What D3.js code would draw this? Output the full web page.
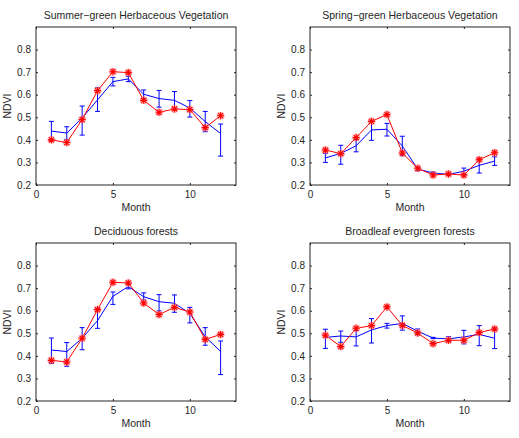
<!DOCTYPE html>
<html>
<head>
<meta charset="utf-8">
<script src="https://cdn.jsdelivr.net/npm/d3@7"></script>
<style>
  body { margin: 0; background: #fff; }
  text { font-family: "Liberation Sans", Arial, sans-serif; fill: #262626; }
</style>
</head>
<body>
<svg id="chart" width="519" height="438"></svg>
<script>
'use strict';

const months = [1, 2, 3, 4, 5, 6, 7, 8, 9, 10, 11, 12];
const xTicks = [0, 5, 10];
const yTicks = [0.2, 0.3, 0.4, 0.5, 0.6, 0.7, 0.8];

const titles = [
  'Summer\u2212green Herbaceous Vegetation',
  'Spring\u2212green Herbaceous Vegetation',
  'Deciduous forests',
  'Broadleaf evergreen forests',
];

// red asterisk series
const summerRed = [0.400, 0.388, 0.490, 0.618, 0.702, 0.698, 0.575, 0.522, 0.537, 0.534, 0.454, 0.507];
const springRed = [0.355, 0.339, 0.410, 0.482, 0.512, 0.342, 0.274, 0.244, 0.249, 0.244, 0.312, 0.343];
const deciduousRed = [0.380, 0.373, 0.478, 0.605, 0.726, 0.723, 0.634, 0.583, 0.615, 0.594, 0.473, 0.495];
const evergreenRed = [0.491, 0.441, 0.522, 0.534, 0.617, 0.535, 0.501, 0.454, 0.469, 0.469, 0.503, 0.519];

// blue mean series
const summerBlue = [0.439, 0.430, 0.497, 0.577, 0.658, 0.670, 0.602, 0.583, 0.575, 0.541, 0.481, 0.428];
const springBlue = [0.320, 0.340, 0.374, 0.444, 0.447, 0.373, 0.271, 0.253, 0.247, 0.261, 0.287, 0.306];
const deciduousBlue = [0.426, 0.419, 0.478, 0.556, 0.664, 0.707, 0.662, 0.640, 0.633, 0.588, 0.484, 0.420];
const evergreenBlue = [0.482, 0.488, 0.484, 0.515, 0.534, 0.544, 0.509, 0.479, 0.475, 0.484, 0.495, 0.478];

// blue error bars: distance below and above the mean
const summerLow = [0.043, 0.028, 0.076, 0.051, 0.019, 0.012, 0.019, 0.038, 0.039, 0.040, 0.045, 0.100];
const summerHigh = [0.043, 0.028, 0.053, 0.054, 0.019, 0.012, 0.019, 0.036, 0.039, 0.033, 0.045, 0.042];
const springLow = [0.020, 0.048, 0.027, 0.046, 0.030, 0.043, 0.008, 0.005, 0.005, 0.015, 0.034, 0.019];
const springHigh = [0.020, 0.036, 0.027, 0.040, 0.026, 0.043, 0.008, 0.005, 0.005, 0.014, 0.026, 0.019];
const deciduousLow = [0.060, 0.065, 0.051, 0.034, 0.036, 0.010, 0.014, 0.041, 0.040, 0.042, 0.037, 0.103];
const deciduousHigh = [0.053, 0.040, 0.047, 0.055, 0.019, 0.010, 0.017, 0.031, 0.037, 0.027, 0.041, 0.046];
const evergreenLow = [0.049, 0.028, 0.040, 0.058, 0.011, 0.030, 0.011, 0.003, 0.011, 0.031, 0.050, 0.046];
const evergreenHigh = [0.036, 0.022, 0.028, 0.050, 0.010, 0.033, 0.010, 0.003, 0.010, 0.029, 0.039, 0.046];

const panels = [
  {title: titles[0], red: summerRed, blue: summerBlue, low: summerLow, high: summerHigh, left: 36, top: 27},
  {title: titles[1], red: springRed, blue: springBlue, low: springLow, high: springHigh, left: 310, top: 27},
  {title: titles[2], red: deciduousRed, blue: deciduousBlue, low: deciduousLow, high: deciduousHigh, left: 36, top: 243},
  {title: titles[3], red: evergreenRed, blue: evergreenBlue, low: evergreenLow, high: evergreenHigh, left: 310, top: 243},
];

const plotW = 200;
const plotH = 158;
const axisColor = '#262626';

const svg = d3.select('#chart');

function drawPanel(p) {
  const g = svg.append('g').attr('transform', `translate(${p.left},${p.top})`);

  const x = d3.scaleLinear().domain([0, 13]).range([0, plotW]);
  const y = d3.scaleLinear().domain([0.2, 0.9]).range([plotH, 0]);

  // axes, ticks pointing inward like matlab
  const styleAxis = (sel) => {
    sel.select('.domain').remove();
    sel.selectAll('line').attr('stroke', axisColor);
    sel.selectAll('text').style('font-size', '10px').attr('fill', axisColor);
  };

  g.append('g')
    .attr('transform', `translate(0,${plotH})`)
    .call(d3.axisBottom(x).tickValues(xTicks).tickSize(-2).tickPadding(6))
    .call(styleAxis);
  g.append('g')
    .call(d3.axisTop(x).tickValues(xTicks).tickSize(-2).tickFormat(''))
    .call(styleAxis);
  g.append('g')
    .call(d3.axisLeft(y).tickValues(yTicks).tickSize(-2).tickPadding(5).tickFormat(d3.format('.1f')))
    .call(styleAxis);
  g.append('g')
    .attr('transform', `translate(${plotW},0)`)
    .call(d3.axisRight(y).tickValues(yTicks).tickSize(-2).tickFormat(''))
    .call(styleAxis);

  g.append('rect')
    .attr('width', plotW)
    .attr('height', plotH)
    .attr('fill', 'none')
    .attr('stroke', axisColor)
    .attr('stroke-width', 1);

  // blue mean line with error bars
  const blueLine = d3.line().x((d, i) => x(months[i])).y((d) => y(d));
  g.append('path')
    .datum(p.blue)
    .attr('d', blueLine)
    .attr('fill', 'none')
    .attr('stroke', '#0000ff')
    .attr('stroke-width', 1);

  const cap = 2.5;
  const bars = g.append('g').attr('stroke', '#0000ff').attr('stroke-width', 1);
  p.blue.forEach((v, i) => {
    const cx = x(months[i]);
    const y0 = y(v - p.low[i]);
    const y1 = y(v + p.high[i]);
    bars.append('line').attr('x1', cx).attr('x2', cx).attr('y1', y0).attr('y2', y1);
    bars.append('line').attr('x1', cx - cap).attr('x2', cx + cap).attr('y1', y0).attr('y2', y0);
    bars.append('line').attr('x1', cx - cap).attr('x2', cx + cap).attr('y1', y1).attr('y2', y1);
  });

  // red line with asterisk markers
  const redLine = d3.line().x((d, i) => x(months[i])).y((d) => y(d));
  g.append('path')
    .datum(p.red)
    .attr('d', redLine)
    .attr('fill', 'none')
    .attr('stroke', '#ff0000')
    .attr('stroke-width', 1);

  const r = 3.5;
  const d = r * 0.707;
  const star = `M${-r},0H${r}M0,${-r}V${r}M${-d},${-d}L${d},${d}M${-d},${d}L${d},${-d}`;
  const marks = g.append('g');
  p.red.forEach((v, i) => {
    const m = marks.append('g').attr('transform', `translate(${x(months[i])},${y(v)})`);
    m.append('circle').attr('r', 4).attr('fill', '#ff8080').attr('opacity', 0.55);
    m.append('path').attr('d', star).attr('stroke', '#ff0000').attr('stroke-width', 1.1).attr('fill', 'none');
  });

  // labels
  g.append('text')
    .attr('x', plotW / 2)
    .attr('y', -8)
    .attr('text-anchor', 'middle')
    .style('font-size', '10.5px')
    .text(p.title);
  g.append('text')
    .attr('x', plotW / 2)
    .attr('y', plotH + 26)
    .attr('text-anchor', 'middle')
    .style('font-size', '10.5px')
    .text('Month');
  g.append('text')
    .attr('transform', `translate(-25,${plotH / 2}) rotate(-90)`)
    .attr('text-anchor', 'middle')
    .style('font-size', '10.5px')
    .text('NDVI');
}

panels.forEach(drawPanel);
</script>
</body>
</html>
